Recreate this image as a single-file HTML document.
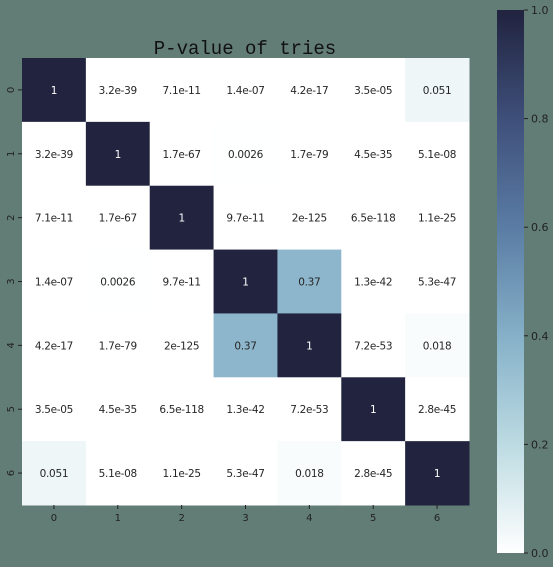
<!DOCTYPE html>
<html><head><meta charset="utf-8"><style>
html,body{margin:0;padding:0;background:#627c76;}
svg{display:block;font-family:"DejaVu Sans","Liberation Sans",sans-serif;}
</style></head><body>
<svg id="chart" width="553" height="567" xmlns="http://www.w3.org/2000/svg">
<defs>
<linearGradient id="cg" x1="0" y1="1" x2="0" y2="0">
<stop offset="0" stop-color="#ffffff"/>
<stop offset="0.2" stop-color="#bcdbe2"/>
<stop offset="0.4" stop-color="#85b0c8"/>
<stop offset="0.6" stop-color="#5a7ca4"/>
<stop offset="0.8" stop-color="#3e4f7a"/>
<stop offset="1" stop-color="#21233f"/>
</linearGradient>
</defs>
<text x="245" y="54" text-anchor="middle" font-size="19" fill="#111" font-family="'Liberation Mono',monospace">P-value of tries</text>
<g id="cells"></g>
<g id="axes"></g>
<rect x="497" y="10" width="27" height="543" fill="url(#cg)"/>
<g id="cbticks"></g>
</svg>
<script>
const categories = ["0","1","2","3","4","5","6"];
const values = [
 [1, 3.2e-39, 7.1e-11, 1.4e-07, 4.2e-17, 3.5e-05, 0.051],
 [3.2e-39, 1, 1.7e-67, 0.0026, 1.7e-79, 4.5e-35, 5.1e-08],
 [7.1e-11, 1.7e-67, 1, 9.7e-11, 2e-125, 6.5e-118, 1.1e-25],
 [1.4e-07, 0.0026, 9.7e-11, 1, 0.37, 1.3e-42, 5.3e-47],
 [4.2e-17, 1.7e-79, 2e-125, 0.37, 1, 7.2e-53, 0.018],
 [3.5e-05, 4.5e-35, 6.5e-118, 1.3e-42, 7.2e-53, 1, 2.8e-45],
 [0.051, 5.1e-08, 1.1e-25, 5.3e-47, 0.018, 2.8e-45, 1]
];
const labels = [
 ["1","3.2e-39","7.1e-11","1.4e-07","4.2e-17","3.5e-05","0.051"],
 ["3.2e-39","1","1.7e-67","0.0026","1.7e-79","4.5e-35","5.1e-08"],
 ["7.1e-11","1.7e-67","1","9.7e-11","2e-125","6.5e-118","1.1e-25"],
 ["1.4e-07","0.0026","9.7e-11","1","0.37","1.3e-42","5.3e-47"],
 ["4.2e-17","1.7e-79","2e-125","0.37","1","7.2e-53","0.018"],
 ["3.5e-05","4.5e-35","6.5e-118","1.3e-42","7.2e-53","1","2.8e-45"],
 ["0.051","5.1e-08","1.1e-25","5.3e-47","0.018","2.8e-45","1"]
];
const cbTicks = [0, 0.2, 0.4, 0.6, 0.8, 1.0];

const NS = "http://www.w3.org/2000/svg";
const X0 = 22, Y0 = 58, W = 447, H = 447;
const cw = W / categories.length, ch = H / categories.length;
const xPos = i => X0 + i * cw;
const yPos = i => Y0 + i * ch;
const cbY = v => 553 - v * 543;
const stops = [[0,[255,255,255]],[0.2,[188,219,226]],[0.4,[133,176,200]],[0.6,[90,124,164]],[0.8,[62,79,122]],[1,[33,35,63]]];
function color(v){
  v = Math.max(0, Math.min(1, v));
  for (let k = 1; k < stops.length; k++) {
    if (v <= stops[k][0]) {
      const a = stops[k-1], b = stops[k], t = (v - a[0]) / (b[0] - a[0]);
      const c = a[1].map((x, j) => Math.round(x + (b[1][j] - x) * t));
      return "rgb(" + c.join(",") + ")";
    }
  }
  return "rgb(33,35,63)";
}
function mk(tag, attrs){ const e = document.createElementNS(NS, tag); for (const k in attrs) e.setAttribute(k, attrs[k]); return e; }
const cells = document.getElementById("cells");
for (let r = 0; r < values.length; r++) {
  for (let c = 0; c < values[r].length; c++) {
    const v = values[r][c];
    const rect = mk("rect", {x: xPos(c), y: yPos(r), width: cw + 0.5, height: ch + 0.5, fill: color(v)});
    
    
    cells.appendChild(rect);
    const t = mk("text", {x: xPos(c) + cw / 2, y: yPos(r) + ch / 2 + 4, "text-anchor": "middle", "font-size": "10.5", "letter-spacing": "-0.3", fill: v > 0.5 ? "#ffffff" : "#262626"});
    t.textContent = labels[r][c];
    
    
    cells.appendChild(t);
  }
}
const axes = document.getElementById("axes");
categories.forEach((cat, i) => {
  const xc = xPos(i) + cw / 2, yc = yPos(i) + ch / 2;
  const tl = mk("line", {x1: xc, y1: Y0 + H, x2: xc, y2: Y0 + H + 4, stroke: "#222", "stroke-width": 1});
  
  
  axes.appendChild(tl);
  const tx = mk("text", {x: xc, y: Y0 + H + 16, "text-anchor": "middle", "font-size": "10", fill: "#222"});
  tx.textContent = cat;
  
  
  axes.appendChild(tx);
  const yl = mk("line", {x1: X0 - 4, y1: yc, x2: X0, y2: yc, stroke: "#222", "stroke-width": 1});
  
  
  axes.appendChild(yl);
  const ty = mk("text", {x: 0, y: 0, "text-anchor": "middle", "font-size": "10", fill: "#222", transform: "translate(" + (X0 - 8) + "," + yc + ") rotate(-90)"});
  ty.textContent = cat;
  
  
  axes.appendChild(ty);
});
const cbg = document.getElementById("cbticks");
cbTicks.forEach(v => {
  const y = cbY(v);
  const l = mk("line", {x1: 524, y1: y, x2: 528, y2: y, stroke: "#222", "stroke-width": 1});
  
  
  cbg.appendChild(l);
  const t = mk("text", {x: 531, y: y + 4, "font-size": "11", fill: "#222"});
  t.textContent = v.toFixed(1);
  
  
  cbg.appendChild(t);
});
</script>
</body></html>
